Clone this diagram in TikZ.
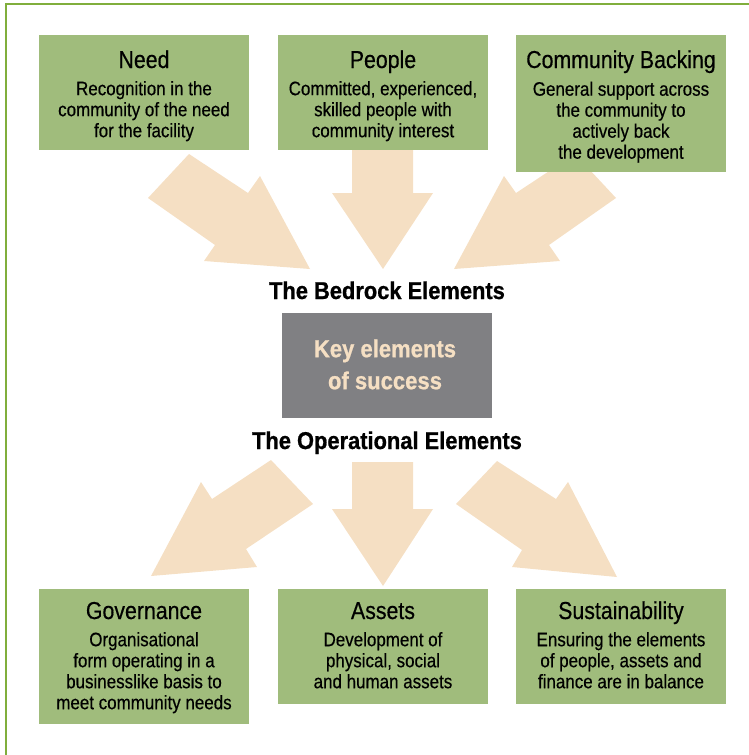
\documentclass[tikz,border=0pt]{standalone}
\usepackage{fontspec}
\setmainfont{Liberation Sans}[FakeStretch=0.87, FakeBold=0.45]
\newfontfamily\hbold{Liberation Sans}[FakeStretch=0.9, BoldFeatures={FakeBold=0.8}]
\definecolor{boxgreen}{HTML}{A0BC7C}
\definecolor{arrowbeige}{HTML}{F5DFC3}
\definecolor{keygrey}{HTML}{808083}
\definecolor{framegreen}{HTML}{80AE3C}
\tikzset{
  gbox/.style={fill=boxgreen, draw=none, minimum width=210pt, minimum height=#1, inner sep=0pt, anchor=north west},
  ttl/.style={font=\fontsize{24.5}{28}\selectfont, inner sep=0pt, anchor=base, text=black},
  bodytxt/.style={font=\fontsize{19.5}{21}\selectfont, inner sep=0pt, anchor=north, align=center, text=black},
  heading/.style={font=\hbold\bfseries\fontsize{24.3}{28}\selectfont, inner sep=0pt, anchor=base, text=black},
  keytxt/.style={font=\hbold\bfseries\fontsize{24.5}{32}\selectfont, inner sep=0pt, anchor=north, align=center, text=arrowbeige},
  blockarrow/.style={fill=arrowbeige, draw=none}
}
\begin{document}
\begin{tikzpicture}[x=1pt,y=-1pt]
\useasboundingbox (0,0) rectangle (749,755);
% frame
\coordinate (fc) at (6,4);
\coordinate (fr) at (749,4);
\coordinate (fb) at (6,755);
\draw[framegreen, line width=1.8pt] (fr) -- (fc) -- (fb);

% block arrows (top)
\fill[blockarrow] (189,154) -- (148,198) -- (215,245) -- (204,261) -- (310,269) -- (260,176) -- (248,193) -- cycle;
\fill[blockarrow] (352,148) -- (352,193) -- (332,193) -- (383,269) -- (433,193) -- (413,193) -- (413,148) -- cycle;
\fill[blockarrow] (575,154) -- (616,198) -- (549,245) -- (560,261) -- (454,269) -- (504,176) -- (516,193) -- cycle;
% block arrows (bottom)
\fill[blockarrow] (271,460) -- (313,504) -- (246,549) -- (257,567) -- (151,576) -- (201,482) -- (212,499) -- cycle;
\fill[blockarrow] (352,462) -- (352,509) -- (332,509) -- (383,586) -- (433,509) -- (413,509) -- (413,462) -- cycle;
\fill[blockarrow] (497,461) -- (456,504) -- (522,550) -- (512,567) -- (617,577) -- (568,482) -- (556,499) -- cycle;

% top boxes
\node[gbox=115pt] (need) at (39,35) {};
\node[gbox=115pt] (people) at (278,35) {};
\node[gbox=137pt] (comm) at (516,35) {};
\node[ttl] (needT) at (144,68) {Need};
\node[ttl] (peopleT) at (383,68) {People};
\node[ttl] (commT) at (621,68) {Community Backing};
\node[bodytxt] (needB) at (144,80.3) {\strut Recognition in the\\community of the need\\for the facility};
\node[bodytxt] (peopleB) at (383,80.3) {\strut Committed, experienced,\\skilled people with\\community interest};
\node[bodytxt] (commB) at (621,80.8) {\strut General support across\\the community to\\actively back\\the development};

% centre
\node[heading] (bedrock) at (387,299) {The Bedrock Elements};
\node[fill=keygrey, draw=none, minimum width=210pt, minimum height=105pt, inner sep=0pt, anchor=north west] (key) at (282,313) {};
\node[keytxt] (keyT) at (385,334.6) {\strut Key elements\\of success};
\node[heading] (oper) at (387,449) {The Operational Elements};

% bottom boxes
\node[gbox=135pt] (gov) at (39,589) {};
\node[gbox=115pt] (assets) at (278,589) {};
\node[gbox=115pt] (sust) at (516,589) {};
\node[ttl] (govT) at (144,619) {Governance};
\node[ttl] (assetsT) at (383,619) {Assets};
\node[ttl] (sustT) at (621,619) {Sustainability};
\node[bodytxt] (govB) at (144,631.3) {\strut Organisational\\form operating in a\\businesslike basis to\\meet community needs};
\node[bodytxt] (assetsB) at (383,631.3) {\strut Development of\\physical, social\\and human assets};
\node[bodytxt] (sustB) at (621,631.3) {\strut Ensuring the elements\\of people, assets and\\finance are in balance};
\end{tikzpicture}
\end{document}
